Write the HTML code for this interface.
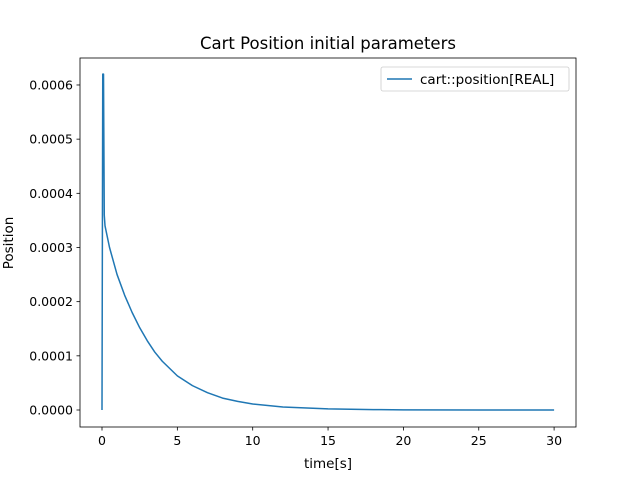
<!DOCTYPE html>
<html><head><meta charset="utf-8"><style>
body{margin:0;background:#fff;font-family:"Liberation Sans","DejaVu Sans",sans-serif}
svg text{font-family:"DejaVu Sans","Liberation Sans",sans-serif;font-size:10px;fill:#000}
</style></head><body>
<svg id="chart" width="640" height="480">
<rect width="640" height="480" fill="#fff"/>
<text x="328" y="49" text-anchor="middle" style="font-size:16.5px">Cart Position initial parameters</text>
<g id="ticks"></g>
<path id="line" fill="none" stroke="#1f77b4" stroke-width="1.5" stroke-linejoin="round"/>
<rect x="80" y="58" width="496" height="369" fill="none" stroke="#000" stroke-width="0.8"/>
<text x="328" y="468" text-anchor="middle" style="font-size:13.5px">time[s]</text>
<text transform="translate(13,243) rotate(-90)" text-anchor="middle" style="font-size:13.5px">Position</text>
<g>
<rect x="381" y="67" width="188" height="24" rx="2" fill="#fff" stroke="#ccc" stroke-width="0.8"/>
<line x1="387" y1="79" x2="412" y2="79" stroke="#1f77b4" stroke-width="1.5"/>
<text x="420" y="84" style="font-size:13.5px">cart::position[REAL]</text>
</g>
</svg>
<script>
const times=[0,0.05,0.1,0.15,0.2,0.5,1,1.5,2,2.5,3,3.5,4,5,6,7,8,9,10,12,15,18,20,25,30];
const positions=[0,0.00062,0.00062,0.00036,0.00034,0.0003,0.00025,0.000212,0.00018,0.000152,0.000128,0.000107,0.00009,0.000063,0.000045,0.000032,0.000022,0.000016,0.000011,0.0000055,0.000002,0.0000007,0.0000003,0,0];
const xTicks=[0,5,10,15,20,25,30];
const yTicks=[0,0.0001,0.0002,0.0003,0.0004,0.0005,0.0006];
const yTickLabels=["0.0000","0.0001","0.0002","0.0003","0.0004","0.0005","0.0006"];
const sx=t=>102+t*15.07;
const sy=v=>410-v*541700;
const ns="http://www.w3.org/2000/svg";
const g=document.getElementById('ticks');
xTicks.forEach(t=>{
 const l=document.createElementNS(ns,'line');
 l.setAttribute('x1',sx(t));l.setAttribute('x2',sx(t));l.setAttribute('y1',427);l.setAttribute('y2',430.5);l.setAttribute('stroke','#000');l.setAttribute('stroke-width','0.8');
 
 
 g.appendChild(l);
 const tx=document.createElementNS(ns,'text');
 tx.setAttribute('x',sx(t));tx.setAttribute('y',445);tx.setAttribute('text-anchor','middle');tx.setAttribute('style','font-size:12.5px');tx.textContent=t;
 
 
 g.appendChild(tx);
});
yTicks.forEach((v,i)=>{
 const l=document.createElementNS(ns,'line');
 l.setAttribute('x1',76.5);l.setAttribute('x2',80);l.setAttribute('y1',sy(v));l.setAttribute('y2',sy(v));l.setAttribute('stroke','#000');l.setAttribute('stroke-width','0.8');
 
 
 g.appendChild(l);
 const tx=document.createElementNS(ns,'text');
 tx.setAttribute('x',73);tx.setAttribute('y',sy(v)+4.5);tx.setAttribute('text-anchor','end');tx.setAttribute('style','font-size:12.5px');tx.textContent=yTickLabels[i];
 
 
 g.appendChild(tx);
});
document.getElementById('line').setAttribute('d',times.map((t,i)=>(i?'L':'M')+sx(t).toFixed(2)+','+sy(positions[i]).toFixed(2)).join(''));
</script>
</body></html>
